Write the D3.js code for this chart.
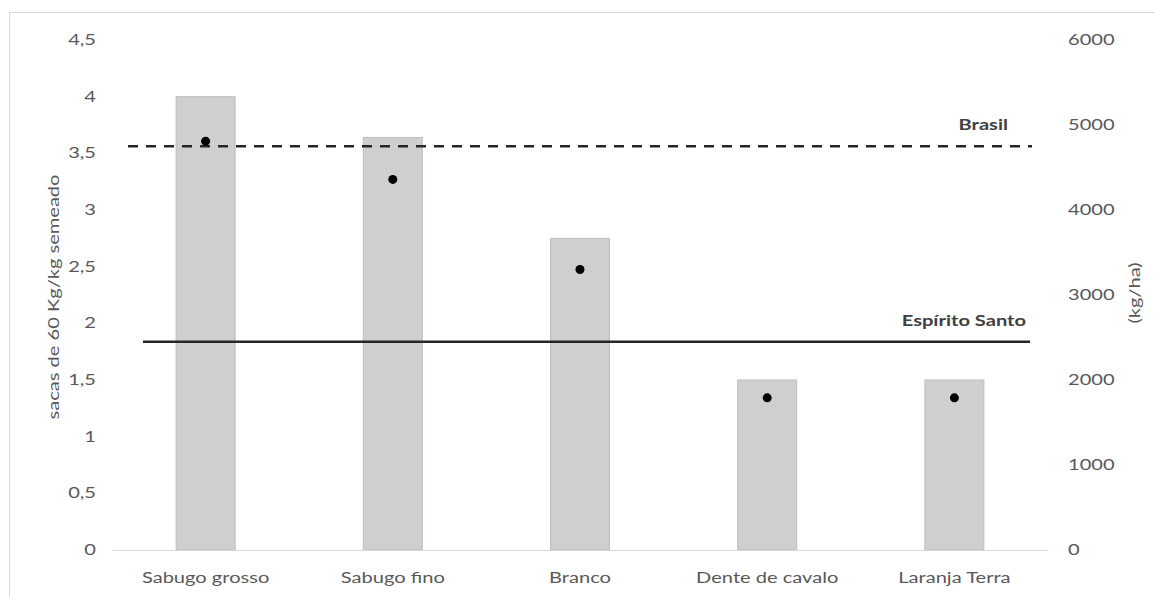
<!DOCTYPE html>
<html>
<head>
<meta charset="utf-8">
<script src="https://cdn.jsdelivr.net/npm/d3@7"></script>
<style>
  html, body { margin: 0; padding: 0; background: #fff; }
  svg { display: block; }
  text { font-family: Lato, "Open Sans", sans-serif; }
</style>
</head>
<body>
<svg id="chart" width="1155" height="597"></svg>
<script>
// ---- data ----
const categories = ["Sabugo grosso", "Sabugo fino", "Branco", "Dente de cavalo", "Laranja Terra"];
const sacasPorKg = [4.0, 3.64, 2.75, 1.5, 1.5];          // bars, left axis
const produtividade = [4810, 4360, 3300, 1790, 1790];   // dots, right axis (kg/ha)
const leftTicks = [0, 0.5, 1, 1.5, 2, 2.5, 3, 3.5, 4, 4.5];
const rightTicks = [0, 1000, 2000, 3000, 4000, 5000, 6000];
const referenceNames = ["Brasil", "Espírito Santo"];
const referenceValues = [4750, 2450];                   // kg/ha
const leftTitle = "sacas de 60 Kg/kg semeado";
const rightTitle = "(kg/ha)";

// ---- layout ----
const svg = d3.select("#chart");
const SX = 1.385;        // horizontal stretch of the text
const FS = 14.5;         // font size
const yBase = 550, yTop = 40;
const xL = 112, xR = 1048;

const x = d3.scaleBand().domain(categories).range([xL, xR]).paddingInner(0.685).paddingOuter(0.3425);
const yL = d3.scaleLinear().domain([0, 4.5]).range([yBase, yTop]);
const yR = d3.scaleLinear().domain([0, 6000]).range([yBase, yTop]);

// outer border
svg.append("rect").attr("x", 9.5).attr("y", 12.5).attr("width", 1150).attr("height", 590)
  .attr("fill", "none").attr("stroke", "#d9d9d9").attr("stroke-width", 1);

// bars
svg.append("g").selectAll("rect").data(categories).join("rect")
  .attr("x", d => x(d))
  .attr("y", (d, i) => yL(sacasPorKg[i]))
  .attr("width", x.bandwidth())
  .attr("height", (d, i) => yBase - yL(sacasPorKg[i]))
  .attr("fill", "#d0cece")
  .attr("stroke", "#bdbdbd")
  .attr("stroke-width", 1);

// x axis (baseline + labels)
const gx = svg.append("g").attr("transform", `translate(0,${yBase})`)
  .call(d3.axisBottom(x).tickSize(0).tickSizeOuter(0).tickPadding(23));
gx.select(".domain").attr("stroke", "#d9d9d9").attr("stroke-width", 1.2);
gx.selectAll("text").attr("font-size", FS).attr("fill", "#595959")
  .attr("font-family", "Lato").attr("transform", `scale(${SX},1)`);

// left axis
const gl = svg.append("g").attr("transform", "translate(96,0)")
  .call(d3.axisLeft(yL).tickValues(leftTicks).tickFormat(d => String(d).replace(".", ",")).tickSize(0).tickPadding(0));
gl.select(".domain").remove();
gl.selectAll("text").attr("font-size", FS).attr("fill", "#595959")
  .attr("font-family", "Lato").attr("transform", `scale(${SX},1)`);

// right axis
const gr = svg.append("g").attr("transform", "translate(1068,0)")
  .call(d3.axisRight(yR).tickValues(rightTicks).tickFormat(d3.format("d")).tickSize(0).tickPadding(0));
gr.select(".domain").remove();
gr.selectAll("text").attr("font-size", FS).attr("fill", "#595959")
  .attr("font-family", "Lato").attr("transform", `scale(${SX},1)`);

// axis titles
svg.append("text").attr("transform", `translate(54,297) rotate(-90) scale(${SX},1)`)
  .attr("text-anchor", "middle").attr("dy", "0.35em")
  .attr("font-size", FS).attr("fill", "#595959").text(leftTitle);
svg.append("text").attr("transform", `translate(1135,293) rotate(-90) scale(${SX},1)`)
  .attr("text-anchor", "middle").attr("dy", "0.35em")
  .attr("font-size", FS).attr("fill", "#595959").text(rightTitle);

// reference lines
const refStyles = [
  { x1: 128, x2: 1032, dash: "10,8", labelRight: 1008, labelDy: -21 },
  { x1: 143, x2: 1030, dash: null, labelRight: 1026, labelDy: -21 }
];
referenceValues.forEach((v, i) => {
  const st = refStyles[i];
  const ln = svg.append("line")
    .attr("x1", st.x1).attr("x2", st.x2)
    .attr("y1", yR(v)).attr("y2", yR(v))
    .attr("stroke", "#262626").attr("stroke-width", 2.6);
  if (st.dash) ln.attr("stroke-dasharray", st.dash);
  svg.append("text")
    .attr("transform", `translate(${st.labelRight},${yR(v) + st.labelDy}) scale(${SX},1)`)
    .attr("text-anchor", "end").attr("dy", "0.35em")
    .attr("font-size", FS).attr("font-weight", "bold").attr("fill", "#404040")
    .text(referenceNames[i]);
});

// dots
svg.append("g").selectAll("circle").data(categories).join("circle")
  .attr("cx", d => x(d) + x.bandwidth() / 2)
  .attr("cy", (d, i) => yR(produtividade[i]))
  .attr("r", 4.5)
  .attr("fill", "#000");
</script>
</body>
</html>
